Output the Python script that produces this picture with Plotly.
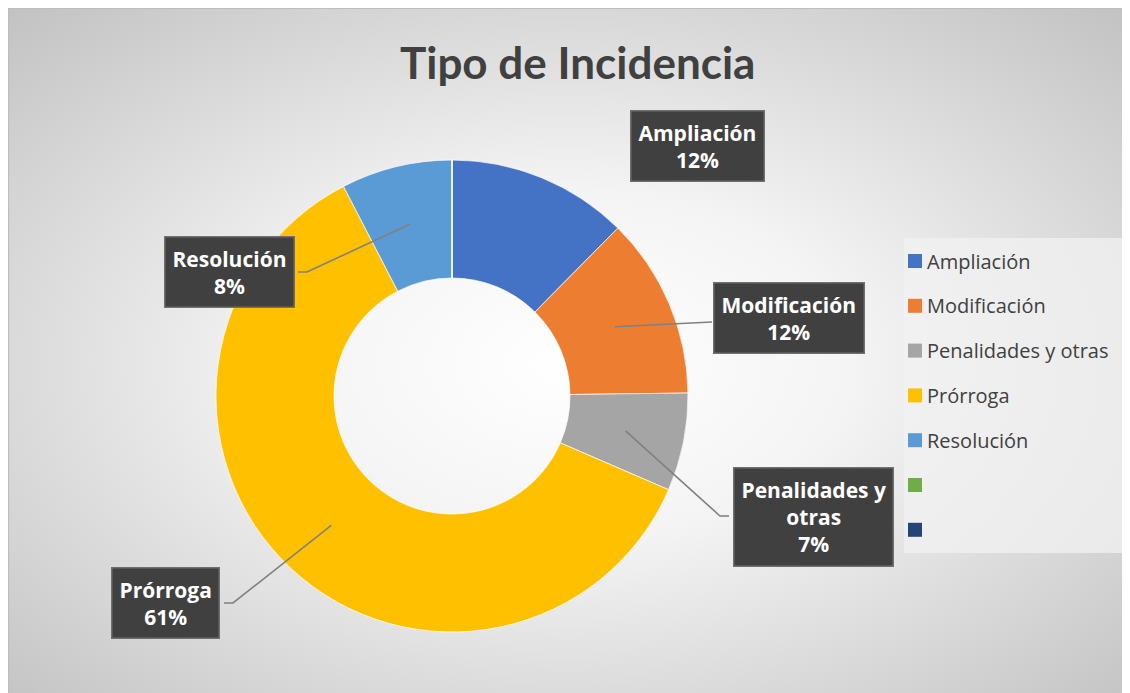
import base64
import math
import plotly.graph_objects as go

# ---------------- data ----------------
categories = ["Ampliación", "Modificación", "Penalidades y otras", "Prórroga", "Resolución", "", " "]
values = [12.4, 12.4, 6.7, 60.9, 7.6, 0, 0]
label_texts = ["Ampliación<br>12%", "Modificación<br>12%", "Penalidades y<br>otras<br>7%",
               "Prórroga<br>61%", "Resolución<br>8%", None, None]
colors = ["#4472C4", "#ED7D31", "#A5A5A5", "#FFC000", "#5B9BD5", "#70AD47", "#264478"]
title_text = "Tipo de Incidencia"

# ---------------- layout helpers ----------------
OFF = 8                     # page body margin
W, H = 1122, 685
def px(x):
    return (x - OFF) / W
def py(y):
    return 1 - (y - OFF) / H

# donut geometry (screen pixels)
CX, CY, R_OUT = 452, 396, 236
HOLE = 0.5
R_MID = R_OUT * (1 + HOLE) / 2

LABEL_FONT = "Open Sans, Lato, sans-serif"

fig = go.Figure()
fig.add_trace(go.Pie(
    labels=categories, values=values, hole=HOLE, sort=False, direction="clockwise",
    rotation=0, marker=dict(colors=colors, line=dict(color="rgba(255,255,255,0.7)", width=1)),
    textinfo="none", textposition="none", showlegend=False, hoverinfo="label+percent",
    domain=dict(x=[px(CX - R_OUT), px(CX + R_OUT)], y=[py(CY + R_OUT), py(CY - R_OUT)]),
))

# label box positions (pixel centres) and leader elbows
box_pos = {
    "Ampliación": (697, 146, None),
    "Modificación": (789, 318, None),
    "Penalidades y otras": (813, 517, "right"),
    "Prórroga": (165, 603, "left"),
    "Resolución": (229, 272, "left"),
}
box_edge = {
    "Modificación": (712, 322),
    "Penalidades y otras": (729, 516),
    "Prórroga": (224, 603),
    "Resolución": (298, 272),
}

total = sum(values)
cum = 0
annotations = []
shapes = []
for cat, v, t in zip(categories, values, label_texts):
    theta = 2 * math.pi * (cum + v / 2) / total
    cum += v
    if t is None:
        continue
    tipx = CX + R_MID * math.sin(theta)
    tipy = CY - R_MID * math.cos(theta)
    bx, by, side = box_pos[cat]
    if cat in box_edge:
        ex, ey = box_edge[cat]
        if side == "left":
            elx = ex + 9
        elif side == "right":
            elx = ex - 9
        else:
            elx = ex
        path = f"M {px(tipx)} {py(tipy)} L {px(elx)} {py(ey)} L {px(ex)} {py(ey)}"
        shapes.append(dict(type="path", xref="paper", yref="paper", path=path,
                           line=dict(color="#808080", width=1.6)))
    annotations.append(dict(
        x=px(bx), y=py(by), xref="paper", yref="paper", text=f"<b>{t}</b>", showarrow=False,
        xanchor="center", yanchor="middle",
        font=dict(family=LABEL_FONT, size=21, color="white"),
        bgcolor="#404040", bordercolor="#6f6f6f", borderwidth=1.5, borderpad=7,
        align="center",
    ))

# custom legend
LEG_X0, LEG_Y0, LEG_DY = 908, 261, 44.8
shapes.append(dict(type="rect", xref="paper", yref="paper", x0=px(904), x1=1.0,
                   y0=py(553), y1=py(238), fillcolor="rgba(242,242,242,0.75)",
                   line=dict(width=0), layer="below"))
for i, (cat, col) in enumerate(zip(categories, colors)):
    yc = LEG_Y0 + i * LEG_DY
    shapes.append(dict(type="rect", xref="paper", yref="paper",
                       x0=px(LEG_X0), x1=px(LEG_X0 + 14), y0=py(yc + 7), y1=py(yc - 7),
                       fillcolor=col, line=dict(width=0)))
    if cat.strip():
        annotations.append(dict(
            x=px(LEG_X0 + 17), y=py(yc), xref="paper", yref="paper", text=cat,
            showarrow=False, xanchor="left", yanchor="middle",
            font=dict(family=LABEL_FONT, size=20, color="#404040"),
        ))

# title
annotations.append(dict(
    x=px(577), y=py(62), xref="paper", yref="paper", text=f"<b>{title_text}</b>",
    showarrow=False, xanchor="center", yanchor="middle",
    font=dict(family="Lato, sans-serif", size=44, color="#404040"),
))

# chart border
shapes.append(dict(type="rect", xref="paper", yref="paper", x0=0.0005, x1=1.2, y0=-0.2, y1=0.9995,
                   line=dict(color="#bdbdbd", width=1.2), layer="below"))

# radial gradient background
svg = ('<svg xmlns="http://www.w3.org/2000/svg" width="1122" height="685" viewBox="0 0 1122 685" '
       'preserveAspectRatio="none"><defs><radialGradient id="g" cx="50%" cy="52%" r="72%">'
       '<stop offset="0" stop-color="#ffffff"/><stop offset="0.35" stop-color="#f4f4f4"/>'
       '<stop offset="1" stop-color="#c2c2c2"/></radialGradient></defs>'
       '<rect width="1122" height="685" fill="url(#g)"/></svg>')
src = "data:image/svg+xml;base64," + base64.b64encode(svg.encode()).decode()

fig.update_layout(
    width=W, height=H, margin=dict(l=0, r=0, t=0, b=0),
    paper_bgcolor="#e6e6e6", plot_bgcolor="white",
    images=[dict(source=src, xref="paper", yref="paper", x=0, y=1,
                 sizex=1, sizey=1, sizing="stretch", layer="below",
                 xanchor="left", yanchor="top")],
    shapes=shapes, annotations=annotations, showlegend=False,
)
fig.write_html("out.html")
